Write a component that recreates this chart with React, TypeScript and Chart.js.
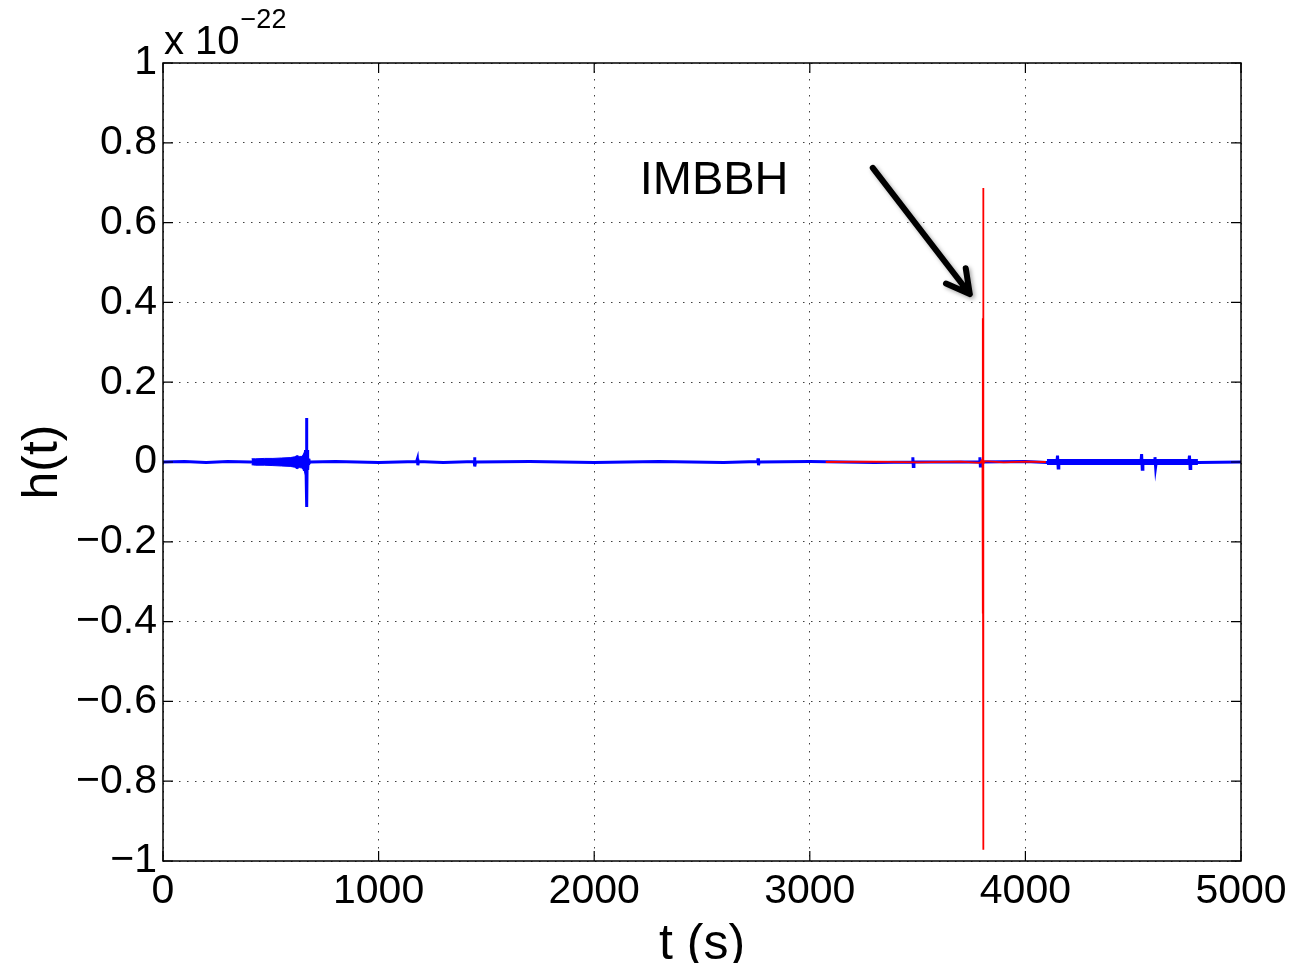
import { useEffect, useRef } from "react";
import { Chart, registerables } from "chart.js";

Chart.register(...registerables);

// axis ranges / tick steps (units: seconds, 1e-22 strain)
const xRange = [0, 5000];
const yRange = [-1, 1];
const xStep = 1000;
const yStep = 0.2;

// blue trace: time (s) and strain (x 1e-22)
const blueT = [
  0, 100, 200, 300, 405, 411, 640, 650, 656,
  661, 664, 666, 667, 669, 671, 674, 677, 682,
  800, 1000, 1176, 1180, 1182, 1185, 1300, 1443, 1445, 1447, 1450,
  1700, 2000, 2300, 2600, 2758, 2760, 2762, 2765,
  3000, 3300, 3476, 3478, 3480, 3483, 3787, 3789, 3791, 3794,
  4000, 4100, 4146, 4149, 4152, 4155, 4536, 4539, 4542, 4545,
  4598, 4601, 4604, 4607, 4758, 4761, 4764, 4767, 4800, 5000,
];
const blueH = [
  0, 0.001, -0.001, 0.001, 0, 0, 0, 0.012, -0.022,
  0.03, -0.035, 0.11, -0.113, 0.03, -0.02, 0.008, -0.004, 0,
  0.001, -0.001, 0.001, 0.008, -0.008, 0.001, -0.001, 0.001, 0.012, -0.011, 0,
  0.001, -0.001, 0.001, -0.001, 0.001, 0.009, -0.008, 0,
  0.001, -0.001, 0, 0.012, -0.011, 0, 0, 0.012, -0.01, 0,
  0.001, -0.001, 0, 0.016, -0.015, 0, 0, 0.02, -0.018, 0,
  0, 0.012, -0.012, 0, 0, 0.016, -0.016, 0, -0.001, 0,
];

// blue chirp burst envelope (before the 666 s spike)
const burstT = [411, 430, 470, 510, 550, 590, 610, 622, 632, 645, 655, 662];
const burstUpper = [0.008, 0.008, 0.009, 0.009, 0.01, 0.011, 0.013, 0.016, 0.014, 0.014, 0.02, 0.03];
const burstLower = [-0.007, -0.008, -0.008, -0.009, -0.01, -0.011, -0.013, -0.017, -0.014, -0.015, -0.022, -0.035];

// noisier blue stretch (wider trace) after the IMBBH event
const bandT = [4100, 4800];
const bandH = [0, 0];

// red trace (IMBBH signal)
const redT = [
  3074, 3300, 3500, 3700, 3790, 3798, 3801, 3802, 3802.5, 3803, 3803.5, 3804, 3804.5,
  3805, 3806, 3810, 3900, 4000, 4095,
];
const redH = [
  0, 0.001, -0.001, 0.001, -0.002, 0.004, -0.006, 0.36, -0.38, 0.36, -0.38, 0.687, -0.972,
  0.02, -0.005, 0.002, -0.001, 0.001, 0,
];

// annotation (data coordinates)
const labelText = "IMBBH";
const labelPos = [2211, 0.672];
const arrowFrom = [3292, 0.737];
const arrowTo = [3742, 0.421];

const xTitle = "t (s)";
const yTitle = "h(t)";
const expBase = "x 10";
const expPow = "\u221222";

const FONT = "'Liberation Sans', Arial, Helvetica, sans-serif";

function fmtY(v: number): string {
  const r = Math.round(v * 10) / 10;
  if (r === 0) return "0";
  const s = Math.abs(r).toString();
  return r < 0 ? "\u2212" + s : s;
}

const framePlugin = {
  id: "matlabFrame",
  afterDatasetsDraw(chart: any) {
    const { ctx, chartArea: a, scales } = chart;
    const xs = scales.x;
    const ys = scales.y;
    ctx.save();
    // box
    ctx.strokeStyle = "#000";
    ctx.lineWidth = 1.5;
    ctx.strokeRect(a.left, a.top, a.right - a.left, a.bottom - a.top);
    // inner ticks
    ctx.lineWidth = 1.2;
    const tl = 10;
    ctx.beginPath();
    xs.ticks.forEach((t: any) => {
      const px = xs.getPixelForValue(t.value);
      ctx.moveTo(px, a.bottom);
      ctx.lineTo(px, a.bottom - tl);
      ctx.moveTo(px, a.top);
      ctx.lineTo(px, a.top + tl);
    });
    ys.ticks.forEach((t: any) => {
      const py = ys.getPixelForValue(t.value);
      ctx.moveTo(a.left, py);
      ctx.lineTo(a.left + tl, py);
      ctx.moveTo(a.right, py);
      ctx.lineTo(a.right - tl, py);
    });
    ctx.stroke();

    // arrow
    const x1 = xs.getPixelForValue(arrowFrom[0]);
    const y1 = ys.getPixelForValue(arrowFrom[1]);
    const x2 = xs.getPixelForValue(arrowTo[0]);
    const y2 = ys.getPixelForValue(arrowTo[1]);
    const ang = Math.atan2(y2 - y1, x2 - x1);
    const hl = 26;
    const spread = 0.5;
    ctx.shadowColor = "rgba(0,0,0,0.35)";
    ctx.shadowBlur = 4;
    ctx.shadowOffsetX = 2;
    ctx.shadowOffsetY = 2;
    ctx.strokeStyle = "#000";
    ctx.lineWidth = 6;
    ctx.lineCap = "round";
    ctx.lineJoin = "round";
    ctx.beginPath();
    ctx.moveTo(x1, y1);
    ctx.lineTo(x2, y2);
    ctx.moveTo(x2 - hl * Math.cos(ang - spread), y2 - hl * Math.sin(ang - spread));
    ctx.lineTo(x2, y2);
    ctx.lineTo(x2 - hl * Math.cos(ang + spread), y2 - hl * Math.sin(ang + spread));
    ctx.stroke();
    ctx.shadowColor = "transparent";
    ctx.shadowBlur = 0;
    ctx.shadowOffsetX = 0;
    ctx.shadowOffsetY = 0;

    // label
    ctx.fillStyle = "#000";
    ctx.font = `47px ${FONT}`;
    ctx.textAlign = "left";
    ctx.textBaseline = "alphabetic";
    ctx.fillText(labelText, xs.getPixelForValue(labelPos[0]), ys.getPixelForValue(labelPos[1]));

    // exponent
    ctx.font = `40px ${FONT}`;
    ctx.fillText(expBase, a.left + 1, a.top - 9);
    const w = ctx.measureText(expBase).width;
    ctx.font = `27px ${FONT}`;
    ctx.fillText(expPow, a.left + 2 + w, a.top - 35);

    // axis titles
    ctx.font = `50px ${FONT}`;
    ctx.textAlign = "center";
    ctx.fillText(xTitle, (a.left + a.right) / 2, 959);
    ctx.translate(57, (a.top + a.bottom) / 2);
    ctx.rotate(-Math.PI / 2);
    ctx.fillText(yTitle, 0, 0);
    ctx.restore();
  },
};

export default function App() {
  const ref = useRef<HTMLCanvasElement | null>(null);
  useEffect(() => {
    if (!ref.current) return;
    const pts = (ts: number[], hs: number[]) => ts.map((t, i) => ({ x: t, y: hs[i] }));
    const chart = new Chart(ref.current, {
      type: "scatter",
      data: {
        datasets: [
          {
            data: pts(redT, redH),
            showLine: true,
            borderColor: "#ff0000",
            borderWidth: 1.8,
            pointRadius: 0,
            order: 0,
          },
          {
            data: pts(blueT, blueH),
            showLine: true,
            borderColor: "#0000ff",
            borderWidth: 3,
            pointRadius: 0,
            order: 1,
          },
          {
            data: pts(bandT, bandH),
            showLine: true,
            borderColor: "#0000ff",
            borderWidth: 6,
            pointRadius: 0,
            order: 2,
          },
          {
            data: pts(burstT, burstUpper),
            showLine: true,
            borderColor: "#0000ff",
            borderWidth: 1,
            pointRadius: 0,
            order: 3,
          },
          {
            data: pts(burstT, burstLower),
            showLine: true,
            borderColor: "#0000ff",
            backgroundColor: "#0000ff",
            borderWidth: 1,
            pointRadius: 0,
            fill: "-1",
            order: 4,
          },
        ],
      },
      options: {
        animation: false,
        responsive: true,
        maintainAspectRatio: false,
        layout: { padding: { top: 63, right: 53, left: 0, bottom: 0 } },
        plugins: { legend: { display: false }, tooltip: { enabled: false } },
        scales: {
          x: {
            type: "linear",
            min: xRange[0],
            max: xRange[1],
            afterFit: (s: any) => {
              s.height = 102;
            },
            ticks: {
              stepSize: xStep,
              autoSkip: false,
              maxRotation: 0,
              padding: 6,
              color: "#000",
              font: { family: FONT, size: 41 },
              callback: (v: any) => String(Math.round(Number(v))),
            },
            grid: { color: "rgba(0,0,0,0.75)", lineWidth: 1, drawTicks: false },
            border: { display: false, dash: [1.5, 6.5] },
          },
          y: {
            type: "linear",
            min: yRange[0],
            max: yRange[1],
            afterFit: (s: any) => {
              s.width = 163;
            },
            ticks: {
              stepSize: yStep,
              autoSkip: false,
              padding: 6,
              color: "#000",
              font: { family: FONT, size: 41 },
              callback: (v: any) => fmtY(Number(v)),
            },
            grid: { color: "rgba(0,0,0,0.75)", lineWidth: 1, drawTicks: false },
            border: { display: false, dash: [1.5, 6.5] },
          },
        },
      },
      plugins: [framePlugin],
    });
    return () => chart.destroy();
  }, []);
  return (
    <div style={{ position: "absolute", left: 0, top: 0, width: 1294, height: 963, background: "#fff" }}>
      <canvas ref={ref} />
    </div>
  );
}
